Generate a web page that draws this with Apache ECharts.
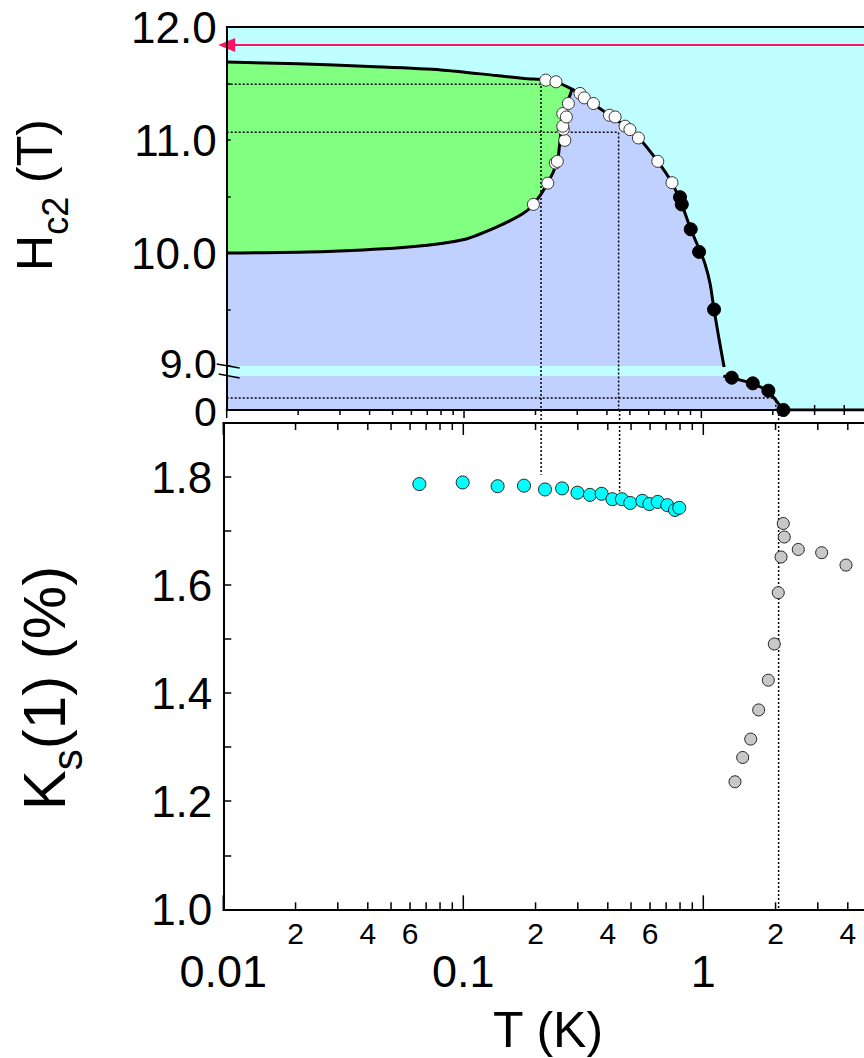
<!DOCTYPE html>
<html><head><meta charset="utf-8">
<script src="https://cdn.jsdelivr.net/npm/echarts@6/dist/echarts.min.js"></script>
<style>html,body{margin:0;padding:0;background:#fff}#c{width:864px;height:1058px}</style>
</head><body><div id="c"></div>
<script>
// ================= DATA =================
// Hc2(T) phase boundary line (upper panel, field in T)
const hc2LineT = [0.01, 0.02, 0.04, 0.08, 0.137, 0.18, 0.221, 0.244, 0.285, 0.31, 0.35, 0.41, 0.48, 0.545, 0.655, 0.752, 0.827, 0.902, 0.987, 1.037, 1.088, 1.131, 1.187, 1.247];
const hc2LineH = [11.69, 11.675, 11.65, 11.62, 11.57, 11.545, 11.53, 11.515, 11.45, 11.40, 11.32, 11.22, 11.12, 11.02, 10.81, 10.62, 10.43, 10.21, 10.02, 9.90, 9.73, 9.50, 9.24, 8.99];
const greenEndIndex = 9; // green phase exists up to the junction at 0.285 K
// lower boundary of the green phase
const lowBranchT = [0.01, 0.0265, 0.06, 0.1, 0.137, 0.176, 0.196, 0.2253, 0.2472, 0.2521, 0.2556, 0.2596, 0.2683, 0.2797, 0.285];
const lowBranchH = [10.0, 10.014, 10.055, 10.12, 10.23, 10.345, 10.43, 10.618, 10.811, 10.938, 11.057, 11.175, 11.308, 11.397, 11.45];
// open symbols
const whiteT = [0.221, 0.244, 0.308, 0.321, 0.351, 0.410, 0.433, 0.477, 0.500, 0.543, 0.655, 0.752, 0.196, 0.2253, 0.2425, 0.2472, 0.2657, 0.2621, 0.2606, 0.2606, 0.2699, 0.2752];
const whiteH = [11.53, 11.515, 11.412, 11.373, 11.323, 11.219, 11.204, 11.122, 11.092, 11.018, 10.811, 10.622, 10.43, 10.618, 10.796, 10.811, 10.997, 11.095, 11.122, 11.234, 11.204, 11.323];
// closed symbols, upper segment
const blackUpT = [0.813, 0.827, 0.902, 0.978, 1.131];
const blackUpH = [10.494, 10.43, 10.21, 10.01, 9.50];
// lower segment below the axis break (0 - 9 T)
const lowSegT = [1.238, 1.343, 1.647, 1.916, 2.216, 10];
const lowSegH = [9.0, 8.55, 7.06, 5.11, 0, 0];
const blackLowT = [1.343, 1.647, 1.916, 2.216];
const blackLowH = [8.55, 7.06, 5.11, 0];
// Knight shift Ks(1) (%)
const ksScT = [0.0656, 0.0994, 0.139, 0.179, 0.219, 0.258, 0.299, 0.337, 0.377, 0.418, 0.458, 0.496, 0.557, 0.596, 0.646, 0.708, 0.762, 0.794];
const ksScV = [1.787, 1.790, 1.783, 1.784, 1.777, 1.779, 1.771, 1.767, 1.769, 1.759, 1.759, 1.752, 1.756, 1.750, 1.754, 1.748, 1.739, 1.743];
const ksNT = [1.355, 1.459, 1.576, 1.701, 1.866, 1.976, 2.053, 2.108, 2.154, 2.175, 2.488, 3.113, 3.932];
const ksNV = [1.236, 1.281, 1.315, 1.369, 1.424, 1.491, 1.586, 1.652, 1.714, 1.689, 1.666, 1.660, 1.637];
// dotted guides: measuring fields / temperatures
const guideT = [0.211, 0.448, 2.06];
const guideH = [11.494, 11.068, 3.17];
const guideKsEnd = [1.804, 1.773, 1.0];
const arrowH = 11.84;
// axis ticks and labels
const tickMinor = [0.02,0.03,0.04,0.05,0.06,0.07,0.08,0.09,0.2,0.3,0.4,0.5,0.6,0.7,0.8,0.9,2,3,4,5,6,7,8,9];
const tickMajor = [0.01, 0.1, 1, 10];
const minorLabelT = [0.02, 0.04, 0.06, 0.2, 0.4, 0.6, 2, 4];
const minorLabelText = ['2','4','6','2','4','6','2','4'];
const majorLabelT = [0.01, 0.1, 1];
const majorLabelText = ['0.01','0.1','1'];

// ================= LAYOUT / STYLE =================
const FONT = '"Liberation Sans", Arial, Helvetica, sans-serif';
const C_BG = '#bfffff', C_BLUE = '#c0d0ff', C_GREEN = '#80ff80', C_RED = '#ff1466';
const topL = 226.7, topW = 712, botL = 223.3, botW = 720;
const upTop = 27, upH = 339, loTop = 376, loH = 34, botTop = 423, botH = 486.3;
const up = {min: 9, max: 12}, lo = {min: 0, max: 9}, ks = {min: 1.0, max: 1.9};
const upReachBottom = up.min - ((loTop + loH) - (upTop + upH)) * (up.max - up.min) / upH;
const ksReachTop = ks.max + (botTop - (loTop + loH)) * (ks.max - ks.min) / botH;

const zip = (a, b) => a.map((v, i) => [v, b[i]]);
const ticks = tickMinor.map(t => [t, 0]).concat(tickMajor.map(t => [t, 1]));
const line2 = {color: '#000', width: 2};

const logX = (gi, extra) => Object.assign({
  type: 'log', logBase: 10, min: 0.01, max: 10, gridIndex: gi,
  axisLabel: {show: false}, axisTick: {show: false}, splitLine: {show: false},
  minorTick: {show: false}, minorSplitLine: {show: false}, axisLine: {show: false}
}, extra);

const chart = echarts.init(document.getElementById('c'), null, {renderer: 'svg', width: 864, height: 1058});

const dotted = {color: '#000', width: 1.5, type: [2, 2]};
const series = [];
series.push({
  type: 'custom', xAxisIndex: 2, yAxisIndex: 2, z: 1, silent: true, data: ticks,
  renderItem: (p, api) => {
    const c = api.coord([api.value(0), 0]);
    const len = api.value(1) === 1 ? 8 : 5;
    return {type: 'line', shape: {x1: c[0], y1: c[1] - len, x2: c[0], y2: c[1] + len}, style: {stroke: '#000', lineWidth: 1.5}};
  }
});
const areaBase = {type: 'line', symbol: 'none', silent: true, smooth: 0.25, lineStyle: {width: 0, opacity: 0}, z: 2};
series.push(Object.assign({}, areaBase, {xAxisIndex: 1, yAxisIndex: 1, data: zip(hc2LineT, hc2LineH), areaStyle: {color: C_BLUE, opacity: 1, origin: 'start'}}));
series.push(Object.assign({}, areaBase, {xAxisIndex: 1, yAxisIndex: 1, data: zip(hc2LineT, hc2LineH).slice(0, greenEndIndex), areaStyle: {color: C_GREEN, opacity: 1, origin: 'start'}}));
series.push(Object.assign({}, areaBase, {xAxisIndex: 1, yAxisIndex: 1, data: zip(lowBranchT, lowBranchH), areaStyle: {color: C_BLUE, opacity: 1, origin: 'start'}}));
series.push(Object.assign({}, areaBase, {xAxisIndex: 2, yAxisIndex: 2, smooth: false, data: [[0.01, lo.max]].concat(zip(lowSegT, lowSegH).slice(0, 5)), areaStyle: {color: C_BLUE, opacity: 1, origin: 'start'}}));
for (let i = 0; i < 2; i++) {
  series.push({type: 'line', xAxisIndex: 1, yAxisIndex: 1, symbol: 'none', silent: true, clip: false, z: 3, lineStyle: dotted,
    data: [[0.01, guideH[i]], [guideT[i], guideH[i]], [guideT[i], upReachBottom]]});
}
series.push({type: 'line', xAxisIndex: 2, yAxisIndex: 2, symbol: 'none', silent: true, clip: false, z: 3, lineStyle: dotted,
  data: [[0.01, guideH[2]], [guideT[2], guideH[2]], [guideT[2], lo.min]]});
for (let i = 0; i < 3; i++) {
  series.push({type: 'line', xAxisIndex: 3, yAxisIndex: 3, symbol: 'none', silent: true, clip: false, z: 3, lineStyle: dotted,
    data: [[guideT[i], ksReachTop], [guideT[i], guideKsEnd[i]]]});
}
const lineBase = {type: 'line', symbol: 'none', silent: true, lineStyle: {color: '#000', width: 3}, z: 4};
series.push(Object.assign({}, lineBase, {xAxisIndex: 1, yAxisIndex: 1, smooth: 0.25, data: zip(hc2LineT, hc2LineH),
  markLine: {silent: true, symbol: ['triangle', 'none'], symbolSize: [14, 17], label: {show: false},
    lineStyle: {color: C_RED, width: 2, type: 'solid'}, data: [[{coord: [0.01, arrowH]}, {coord: [10, arrowH]}]]}}));
series.push(Object.assign({}, lineBase, {xAxisIndex: 1, yAxisIndex: 1, smooth: 0.25, data: zip(lowBranchT, lowBranchH)}));
series.push(Object.assign({}, lineBase, {xAxisIndex: 2, yAxisIndex: 2, data: zip(lowSegT, lowSegH)}));
const sc = (xi, yi, data, size, color, border) => ({type: 'scatter', xAxisIndex: xi, yAxisIndex: yi, data, symbol: 'circle', symbolSize: size, z: 5, silent: true,
  itemStyle: {color, borderColor: border, borderWidth: 1, opacity: 1}});
series.push(sc(1, 1, zip(whiteT, whiteH), 12, '#ffffff', '#333'));
series.push(sc(1, 1, zip(blackUpT, blackUpH), 13, '#000000', '#000'));
series.push(sc(2, 2, zip(blackLowT, blackLowH), 13, '#000000', '#000'));
series.push(sc(3, 3, zip(ksScT, ksScV), 13, '#00ffff', '#222'));
series.push(sc(3, 3, zip(ksNT, ksNV), 12, '#c8c8c8', '#222'));
series.push({
  type: 'custom', xAxisIndex: 3, yAxisIndex: 3, z: 6, silent: true, data: ticks,
  renderItem: (p, api) => {
    const major = api.value(1) === 1;
    const b = api.coord([api.value(0), ks.min]);
    const t = api.coord([api.value(0), ks.max]);
    const lb = major ? 14 : 7, lt = major ? 12 : 7;
    return {type: 'group', children: [
      {type: 'line', shape: {x1: b[0], y1: b[1], x2: b[0], y2: b[1] - lb}, style: {stroke: '#000', lineWidth: 1.5}},
      {type: 'line', shape: {x1: t[0], y1: t[1], x2: t[0], y2: t[1] + lt}, style: {stroke: '#000', lineWidth: 1.5}}
    ]};
  }
});
series.push({
  type: 'custom', xAxisIndex: 3, yAxisIndex: 3, z: 6, silent: true, clip: false, data: minorLabelT.map(t => [t, ks.min]),
  renderItem: (p, api) => {
    const c = api.coord([api.value(0), ks.min]);
    return {type: 'text', x: c[0], y: c[1] + 24, style: {text: minorLabelText[p.dataIndex], fontSize: 30, fontFamily: FONT, fill: '#000', align: 'center', verticalAlign: 'middle'}};
  }
});
series.push({
  type: 'custom', xAxisIndex: 3, yAxisIndex: 3, z: 6, silent: true, clip: false, data: majorLabelT.map(t => [t, ks.min]),
  renderItem: (p, api) => {
    const c = api.coord([api.value(0), ks.min]);
    return {type: 'text', x: c[0], y: c[1] + 62, style: {text: majorLabelText[p.dataIndex], fontSize: 45, fontFamily: FONT, fill: '#000', align: 'center', verticalAlign: 'middle'}};
  }
});

const gridBase = {outerBoundsMode: 'none', containLabel: false};
const lblBase = {fontSize: 44, fontFamily: FONT, color: '#000', margin: 10};
const option = {
  animation: false,
  backgroundColor: '#ffffff',
  grid: [
    Object.assign({left: topL, top: upTop, width: topW, height: loTop + loH - upTop, show: true, backgroundColor: C_BG, borderWidth: 0}, gridBase),
    Object.assign({left: topL, top: upTop, width: topW, height: upH}, gridBase),
    Object.assign({left: topL, top: loTop, width: topW, height: loH}, gridBase),
    Object.assign({left: botL, top: botTop, width: botW, height: botH}, gridBase)
  ],
  xAxis: [
    logX(0, {position: 'top', axisLine: {show: true, onZero: false, lineStyle: line2}, z: 10}),
    logX(1, {}),
    logX(2, {position: 'bottom', axisLine: {show: true, onZero: false, lineStyle: line2}, z: 10}),
    logX(3, {position: 'bottom', axisLine: {show: true, onZero: false, lineStyle: line2}, z: 10}),
    logX(3, {position: 'top', axisLine: {show: true, onZero: false, lineStyle: line2}, z: 10})
  ],
  yAxis: [
    {type: 'value', gridIndex: 0, min: 0, max: 1, axisLine: {show: true, onZero: false, lineStyle: line2}, axisTick: {show: false}, axisLabel: {show: false}, splitLine: {show: false}, z: 10},
    {type: 'value', gridIndex: 1, min: up.min, max: up.max, interval: 0.5, axisLine: {show: false},
      axisTick: {show: true, inside: true, length: 4, lineStyle: {color: '#000', width: 1.5}},
      axisLabel: Object.assign({}, lblBase, {
        formatter: v => Math.abs(v - up.min) < 1e-6 ? '{b|' + v.toFixed(1) + '}' : (Math.abs(v - Math.round(v)) < 1e-6 ? v.toFixed(1) : ''),
        rich: {b: {fontSize: 41, fontFamily: FONT, color: '#000', padding: [0, 0, 4, 0]}}}),
      splitLine: {show: false}, z: 10},
    {type: 'value', gridIndex: 2, min: lo.min, max: lo.max, interval: 9, axisLine: {show: false}, axisTick: {show: false},
      axisLabel: Object.assign({}, lblBase, {showMaxLabel: false, formatter: v => v === 0 ? '{b|0}' : '',
        rich: {b: {fontSize: 41, fontFamily: FONT, color: '#000', padding: [4, 0, 0, 0]}}}),
      splitLine: {show: false}},
    {type: 'value', gridIndex: 3, min: ks.min, max: ks.max, interval: 0.1, axisLine: {show: true, onZero: false, lineStyle: line2},
      axisTick: {show: true, inside: true, length: 8, lineStyle: {color: '#000', width: 1.5}},
      axisLabel: Object.assign({}, lblBase, {margin: 11, showMaxLabel: false,
        formatter: v => { const k = Math.round(v * 10); return (k % 2 === 0 && k <= 18) ? v.toFixed(1) : ''; }}),
      splitLine: {show: false}, z: 10}
  ],
  graphic: [
    {type: 'line', shape: {x1: topL - 10, y1: upTop + upH - 2, x2: topL + 13, y2: upTop + upH + 2}, style: {stroke: '#000', lineWidth: 1.5}, z: 20},
    {type: 'line', shape: {x1: topL - 8, y1: loTop - 2, x2: topL + 13, y2: loTop + 2}, style: {stroke: '#000', lineWidth: 1.5}, z: 20},
    {type: 'text', x: 35, y: 195, rotation: Math.PI / 2, z: 20,
      style: {text: '{h|H}{s|c2}{h| (T)}', align: 'center', verticalAlign: 'middle', fill: '#000',
        rich: {h: {fontSize: 50, fontFamily: FONT, fill: '#000'}, s: {fontSize: 36, fontFamily: FONT, fill: '#000', padding: [40, 0, 0, 0]}}}},
    {type: 'text', x: 44, y: 688, rotation: Math.PI / 2, z: 20,
      style: {text: '{h|K}{s|s}{h|(1) (%)}', align: 'center', verticalAlign: 'middle', fill: '#000',
        rich: {h: {fontSize: 60, fontFamily: FONT, fill: '#000'}, s: {fontSize: 42, fontFamily: FONT, fill: '#000', padding: [46, 0, 0, 0]}}}},
    {type: 'text', x: 548, y: 1030, z: 20,
      style: {text: 'T (K)', align: 'center', verticalAlign: 'middle', fontSize: 50, fontFamily: FONT, fill: '#000'}}
  ],
  series
};
chart.setOption(option);
</script>
</body></html>
